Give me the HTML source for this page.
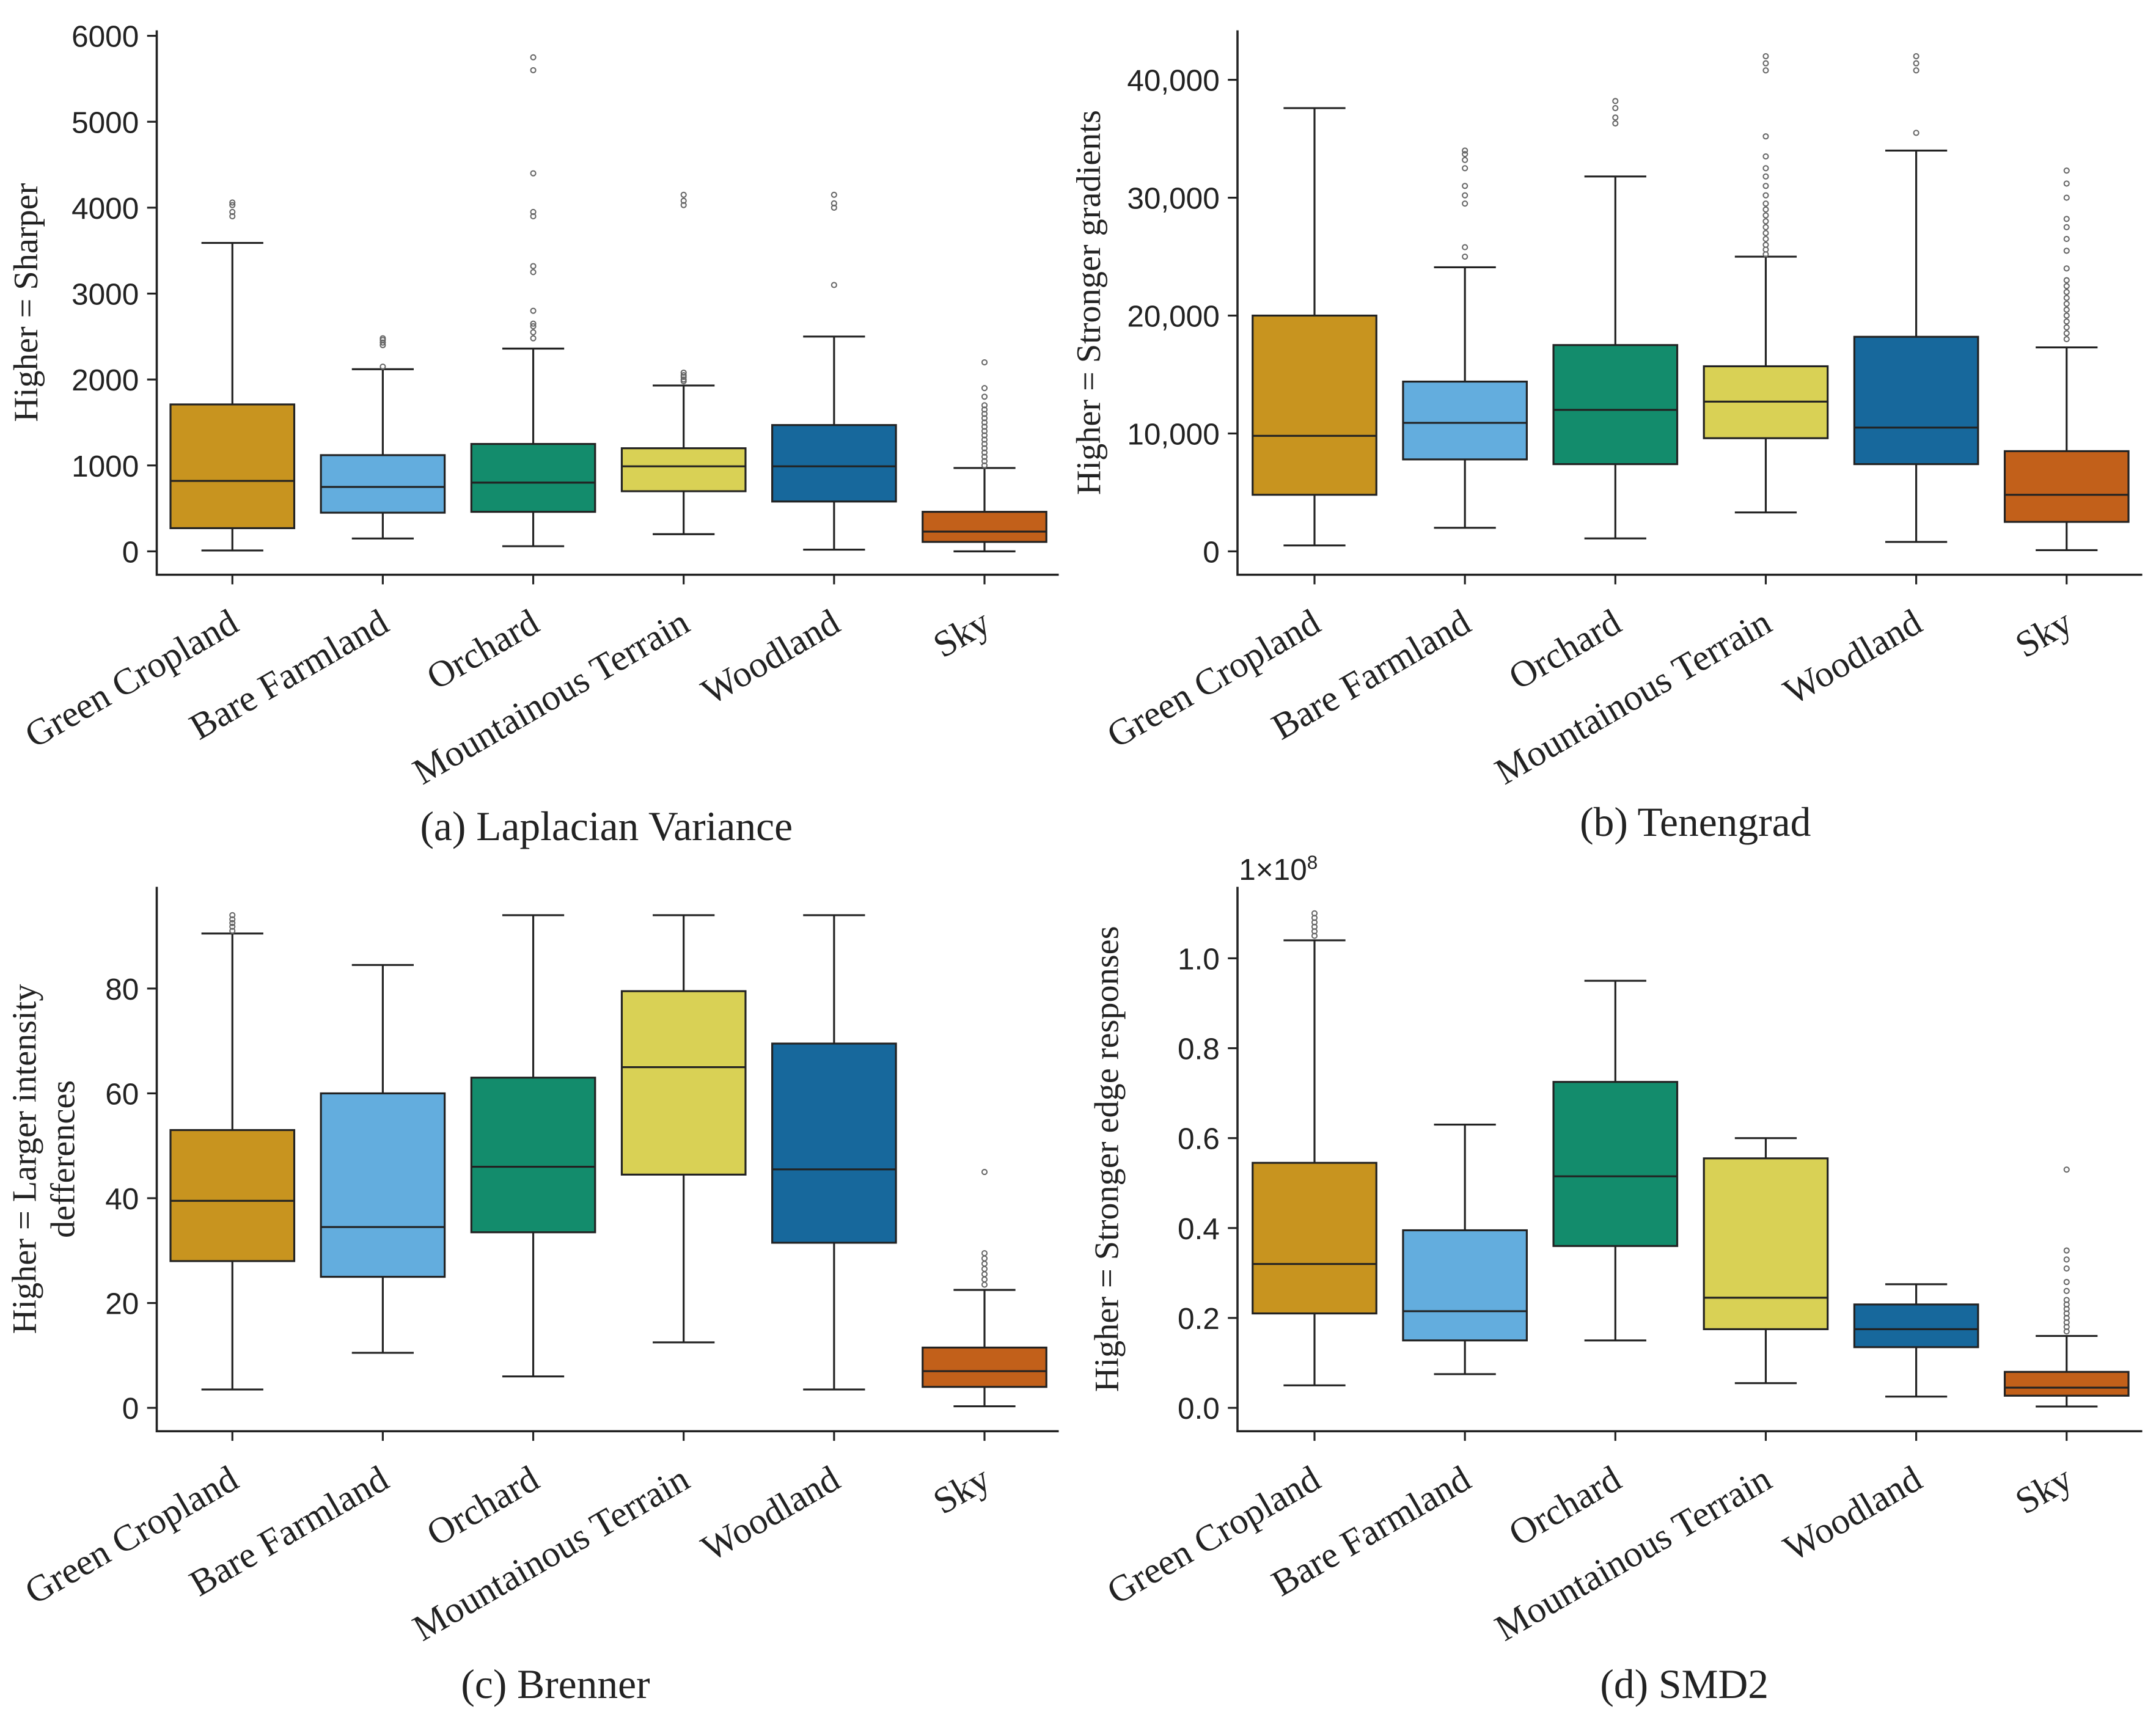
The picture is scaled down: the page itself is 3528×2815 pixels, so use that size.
<!DOCTYPE html>
<html><head><meta charset="utf-8">
<style>
html,body{margin:0;padding:0;background:#fff;}
svg{display:block;}
.tick{font-family:"Liberation Sans",sans-serif;font-size:22px;fill:#222;}
.cat{font-family:"Liberation Serif",serif;font-size:27px;fill:#222;}
.ttl{font-family:"Liberation Serif",serif;font-size:25px;fill:#222;}
.cap{font-family:"Liberation Serif",serif;font-size:30px;fill:#222;}
</style></head>
<body>
<svg id="fig" width="3528" height="2815" viewBox="0 0 1568 1251" xmlns="http://www.w3.org/2000/svg">
<rect width="1568" height="1251" fill="#fff"/>
</svg>
<script>
const categories = ["Green Cropland","Bare Farmland","Orchard","Mountainous Terrain","Woodland","Sky"];
const colors = ["#C8941F","#63ADDE","#138C6C","#D9D155","#17689C","#C2601A"];
// each stat row: [whiskerLow, q1, median, q3, whiskerHigh]
const statsA = [[10,270,820,1710,3590],[150,450,750,1120,2120],[60,460,800,1250,2360],[200,700,990,1200,1930],[20,580,990,1470,2500],[0,110,230,460,970]];
const outA = [[3900,3950,4030,4060],[2150,2400,2430,2460,2480],[2480,2550,2620,2650,2800,3250,3320,3900,3950,4400,5600,5750],[1980,2000,2030,2050,2080,4030,4080,4150],[3100,4000,4050,4150],[1000,1050,1100,1150,1200,1250,1300,1350,1400,1450,1500,1550,1600,1650,1700,1800,1900,2200]];
const ticksA = [0,1000,2000,3000,4000,5000,6000];
const statsB = [[500,4800,9800,20000,37600],[2000,7800,10900,14400,24100],[1100,7400,12000,17500,31800],[3300,9600,12700,15700,25000],[800,7400,10500,18200,34000],[100,2500,4800,8500,17300]];
const outB = [[],[25000,25800,29500,30200,31000,32500,33200,33700,34000],[36300,36800,37600,38200],[25200,25600,26000,26500,27000,27500,28000,28500,29000,29500,30200,31000,31800,32500,33500,35200,40800,41400,42000],[35500,40800,41400,42000],[18000,18500,19000,19500,20000,20500,21000,21500,22000,22500,23000,24000,25500,26500,27500,28200,30000,31200,32300]];
const ticksB = [0,10000,20000,30000,40000];
const statsC = [[3.5,28,39.5,53,90.5],[10.5,25,34.5,60,84.5],[6,33.5,46,63,94],[12.5,44.5,65,79.5,94],[3.5,31.5,45.5,69.5,94],[0.3,4,7,11.5,22.5]];
const outC = [[91,91.8,92.5,93.2,94],[],[],[],[],[23.5,24.5,25.5,26.5,27.5,28.5,29.5,45]];
const ticksC = [0,20,40,60,80];
const statsD = [[0.05,0.21,0.32,0.545,1.04],[0.075,0.15,0.215,0.395,0.63],[0.15,0.36,0.515,0.725,0.95],[0.055,0.175,0.245,0.555,0.60],[0.025,0.135,0.175,0.23,0.275],[0.003,0.027,0.045,0.08,0.16]];
const outD = [[1.05,1.06,1.07,1.08,1.09,1.1],[],[],[],[],[0.17,0.18,0.19,0.2,0.21,0.22,0.23,0.24,0.26,0.28,0.31,0.33,0.35,0.53]];
const ticksD = [0,0.2,0.4,0.6,0.8,1.0];

const NS="http://www.w3.org/2000/svg";
const svg=document.getElementById('fig');
function mk(tag,attrs,parent,text){
  const e=document.createElementNS(NS,tag);
  for(const k in attrs)e.setAttribute(k,attrs[k]);
  if(text!==undefined)e.textContent=text;
  (parent||svg).appendChild(e);return e;
}
function panel(opt){
  const g=mk('g',{});
  
  
  const y=v=>opt.y0+(v-opt.v0)*(opt.y1-opt.y0)/(opt.v1-opt.v0);
  const x=i=>opt.xs+i*opt.dx;
  const ax=mk('path',{d:`M${opt.ax},${opt.top}V${opt.bot}H${opt.right}`,stroke:'#222','stroke-width':1.6,fill:'none'},g);
  
  
  opt.ticks.forEach(t=>{
    mk('line',{x1:opt.ax-7,x2:opt.ax,y1:y(t),y2:y(t),stroke:'#222','stroke-width':1.4},g);
    const lb=mk('text',{x:opt.ax-13,y:y(t)+8,'text-anchor':'end',class:'tick'},g,opt.fmt(t));
    
    
  });
  categories.forEach((c,i)=>{
    const cx=x(i),s=opt.stats[i],hw=opt.bw/2,cw=hw*0.5;
    const bg=mk('g',{},g);
    
    
    mk('line',{x1:cx,x2:cx,y1:y(s[0]),y2:y(s[1]),stroke:'#222','stroke-width':1.4},bg);
    mk('line',{x1:cx,x2:cx,y1:y(s[3]),y2:y(s[4]),stroke:'#222','stroke-width':1.4},bg);
    mk('line',{x1:cx-cw,x2:cx+cw,y1:y(s[0]),y2:y(s[0]),stroke:'#222','stroke-width':1.4},bg);
    mk('line',{x1:cx-cw,x2:cx+cw,y1:y(s[4]),y2:y(s[4]),stroke:'#222','stroke-width':1.4},bg);
    mk('rect',{x:cx-hw,y:y(s[3]),width:opt.bw,height:y(s[1])-y(s[3]),fill:colors[i],stroke:'#222','stroke-width':1.4},bg);
    mk('line',{x1:cx-hw,x2:cx+hw,y1:y(s[2]),y2:y(s[2]),stroke:'#222','stroke-width':1.4},bg);
    opt.out[i].forEach(v=>{
      const o=mk('circle',{cx:cx,cy:y(v),r:1.8,fill:'none',stroke:'#666','stroke-width':0.9},bg);
      
      
    });
    mk('line',{x1:cx,x2:cx,y1:opt.bot,y2:opt.bot+7,stroke:'#222','stroke-width':1.4},g);
    const ty=opt.bot+40;
    const cl=mk('text',{x:cx+6,y:ty,'text-anchor':'end',class:'cat',transform:`rotate(-30 ${cx+6} ${ty})`},g,c);
    
    
  });
  const tx=opt.titleX, tcy=(opt.top+opt.bot)/2;
  opt.title.forEach((line,k)=>{
    const t=mk('text',{x:tx+k*28,y:tcy,'text-anchor':'middle',class:'ttl',transform:`rotate(-90 ${tx+k*28} ${tcy})`},g,line);
    
    
  });
  const cp=mk('text',{x:opt.capX,y:opt.capY,'text-anchor':'middle',class:'cap'},g,opt.cap);
  
  
}
const comma=v=>v.toLocaleString('en-US');
panel({name:'panel-laplacian',ax:114,top:22,bot:418,right:770,xs:169,dx:109.4,bw:90,v0:0,v1:6000,y0:401,y1:26,
  stats:statsA,out:outA,ticks:ticksA,fmt:v=>String(v),title:['Higher = Sharper'],titleX:27,cap:'(a) Laplacian Variance',capX:441,capY:611});
panel({name:'panel-tenengrad',ax:900,top:22,bot:418,right:1558,xs:956,dx:109.4,bw:90,v0:0,v1:40000,y0:401,y1:58,
  stats:statsB,out:outB,ticks:ticksB,fmt:comma,title:['Higher = Stronger gradients'],titleX:800,cap:'(b) Tenengrad',capX:1233,capY:608});
panel({name:'panel-brenner',ax:114,top:645,bot:1041,right:770,xs:169,dx:109.4,bw:90,v0:0,v1:80,y0:1024,y1:719,
  stats:statsC,out:outC,ticks:ticksC,fmt:v=>String(v),title:['Higher = Larger intensity','defferences'],titleX:26,cap:'(c) Brenner',capX:404,capY:1235});
panel({name:'panel-smd2',ax:900,top:645,bot:1041,right:1558,xs:956,dx:109.4,bw:90,v0:0,v1:1,y0:1024,y1:697,
  stats:statsD,out:outD,ticks:ticksD,fmt:v=>v.toFixed(1),title:['Higher = Stronger edge responses'],titleX:813,cap:'(d) SMD2',capX:1225,capY:1235});
const sc=mk('text',{x:901,y:640,class:'tick'},svg,'1×10');


mk('tspan',{dy:-8,'font-size':'14'},sc,'8');
</script>
</body></html>
